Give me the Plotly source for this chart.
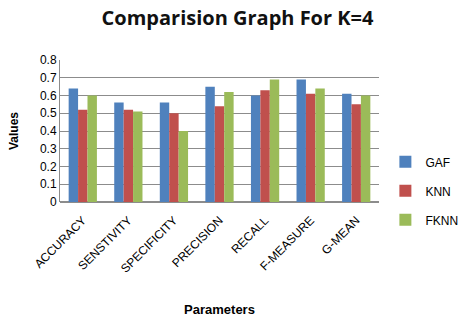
import plotly.graph_objects as go

categories = ["ACCURACY", "SENSTIVITY", "SPECIFICITY", "PRECISION", "RECALL", "F-MEASURE", "G-MEAN"]
gaf = [0.64, 0.56, 0.56, 0.65, 0.60, 0.69, 0.61]
knn = [0.52, 0.52, 0.50, 0.54, 0.63, 0.61, 0.55]
fknn = [0.60, 0.51, 0.40, 0.62, 0.69, 0.64, 0.60]
series_names = ["GAF", "KNN", "FKNN"]
colors = ["#4F81BD", "#C0504D", "#9BBB59"]
yticks = [0, 0.1, 0.2, 0.3, 0.4, 0.5, 0.6, 0.7, 0.8]
ytick_labels = ["0", "0.1", "0.2", "0.3", "0.4", "0.5", "0.6", "0.7", "0.8"]

fig = go.Figure()
for name, vals, c in zip(series_names, [gaf, knn, fknn], colors):
    fig.add_trace(go.Bar(x=categories, y=vals, name=name, legendgroup=name,
                         marker=dict(color=c, line=dict(width=0))))

fig.update_layout(
    width=475, height=328,
    margin=dict(l=60, r=72, t=60, b=126),
    paper_bgcolor="white", plot_bgcolor="white",
    barmode="group", bargap=0.38, bargroupgap=0,
    font=dict(family="Liberation Sans, Arial, sans-serif", color="#000000", size=11),
    title=dict(text="<b>Comparision Graph For K=4</b>", x=0.5, xanchor="center", y=0.945, yanchor="middle",
               font=dict(size=20, family="Open Sans, Liberation Sans, sans-serif", color="#111111")),
    showlegend=True,
    legend=dict(x=1.02, xanchor="left", y=0.385, yanchor="top", font=dict(size=12),
                tracegroupgap=10, itemwidth=30, bgcolor="rgba(0,0,0,0)"),
    xaxis=dict(tickangle=-45, showline=False, ticks="", tickfont=dict(size=12), ticklabelstandoff=8,
               title=dict(text="<b>Parameters</b>", font=dict(size=13), standoff=30)),
    yaxis=dict(range=[0, 0.8], tickvals=yticks, ticktext=ytick_labels, showgrid=True, gridcolor="#8C8C8C", gridwidth=1,
               showline=True, linecolor="#8C8C8C", linewidth=1, zeroline=True, zerolinecolor="#8C8C8C",
               ticks="", tickfont=dict(size=12),
               title=dict(text="<b>Values</b>", font=dict(size=12), standoff=18)),
)

fig.write_html("out.html")
